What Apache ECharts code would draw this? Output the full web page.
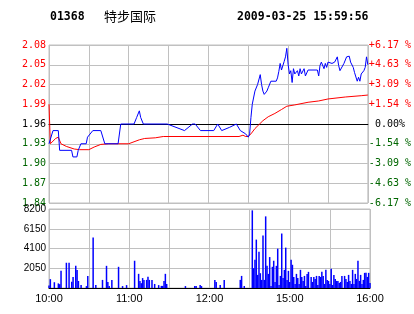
<!DOCTYPE html>
<html><head><meta charset="utf-8">
<script src="https://cdn.jsdelivr.net/npm/echarts@6/dist/echarts.min.js"></script>
<style>html,body{margin:0;padding:0;background:#fff}#c{width:414px;height:314px}</style>
</head><body><div id="c"></div><script>
const stockCode = '01368';
const stockName = '特步国际';
const stamp = '2009-03-25 15:59:56';
const PRE_CLOSE = 1.96;
const priceTickLabels = ['1.84','1.87','1.90','1.93','1.96','1.99','2.02','2.05','2.08'];
const pctTickLabels = ['-6.17 %','-4.63 %','-3.09 %','-1.54 %',' 0.00%','+1.54 %','+3.09 %','+4.63 %','+6.17 %'];
const volTickLabels = ['','2050','4100','6150','8200'];
const timeTickMinutes = [0,60,120,180,240];
const timeTickLabels = ['10:00','11:00','12:00','15:00','16:00'];

// [minute index, price]
const priceLine = [[0,1.93],[3,1.95],[7,1.95],[8,1.92],[17,1.92],[18,1.91],[21,1.91],[22,1.92],[24,1.93],[28,1.93],[29,1.94],[33,1.95],[39,1.95],[42,1.93],[52,1.93],[54,1.96],[64,1.96],[66,1.97],[68,1.98],[69,1.97],[71,1.96],[89,1.96],[102,1.95],[108,1.96],[110,1.96],[114,1.95],[124,1.95],[127,1.96],[130,1.95],[136,1.955],[141,1.96],[142,1.96],[144,1.95],[148,1.945],[150,1.94],[151,1.945],[152,1.97],[153,1.99],[155,2.01],[156,2.008],[157,2.02],[159,2.035],[160,2.02],[161,2.01],[162,2.005],[163,2.008],[164,2.01],[165,2.015],[167,2.025],[171,2.025],[172,2.03],[173,2.04],[174,2.052],[175,2.042],[177,2.055],[178,2.062],[179,2.075],[180,2.05],[181,2.036],[182,2.041],[183,2.023],[184,2.044],[185,2.036],[187,2.041],[188,2.033],[189,2.044],[190,2.036],[192,2.044],[193,2.033],[194,2.033],[195,2.042],[202,2.042],[203,2.033],[204,2.049],[205,2.054],[207,2.044],[208,2.052],[209,2.046],[210,2.054],[213,2.052],[215,2.054],[217,2.062],[218,2.049],[219,2.041],[222,2.052],[223,2.054],[224,2.062],[226,2.063],[227,2.054],[229,2.046],[230,2.038],[232,2.025],[233,2.031],[234,2.025],[235,2.036],[237,2.041],[238,2.046],[239,2.062],[240,2.05]];

const avgLine = [[0,1.99],[1,1.93],[3,1.934],[5,1.938],[7,1.94],[8,1.94],[9,1.93],[13,1.926],[19,1.922],[23,1.921],[30,1.921],[34,1.925],[39,1.929],[45,1.93],[60,1.93],[64,1.933],[68,1.936],[72,1.938],[80,1.939],[86,1.941],[143,1.941],[146,1.943],[148,1.941],[150,1.941],[152,1.945],[155,1.953],[158,1.959],[161,1.965],[165,1.971],[170,1.976],[175,1.982],[179,1.987],[185,1.989],[195,1.993],[203,1.995],[210,1.998],[223,2.001],[235,2.003],[240,2.004]];

const volumeBars = [[0,250],[1,920],[4,600],[7,480],[8,400],[9,1780],[13,2620],[15,2620],[17,650],[18,1150],[20,2300],[21,1880],[22,730],[24,300],[28,200],[29,1250],[33,5250],[35,300],[40,840],[43,2300],[44,630],[45,200],[47,840],[52,2200],[55,200],[58,300],[64,2830],[67,1470],[68,730],[69,500],[70,1030],[71,840],[73,840],[74,1170],[75,840],[77,840],[79,420],[82,300],[84,220],[85,220],[86,730],[87,1470],[88,420],[102,200],[109,200],[110,200],[113,300],[114,200],
[124,840],[125,630],[128,315],[131,840],[143,840],[144,1255],[146,210],
[152,8060],[153,2060],[154,2930],[155,5025],[156,1360],[157,3770],[158,1535],[159,840],[160,5445],[161,840],[162,7435],[163,2300],[164,1465],[165,3210],[166,210],[167,2200],[168,2830],[169,630],[170,2300],[171,4085],[172,315],[173,1255],[174,5655],[175,1050],[176,1885],[177,4190],[178,840],[179,1780],[180,630],[181,2930],[182,2410],[183,1150],[184,420],[185,1465],[186,1050],[187,420],[188,1885],[189,1150],[190,735],[191,1255],[192,210],[193,1465],[194,1675],[196,1150],[197,630],[198,1150],[199,940],[200,1255],[201,315],[202,1255],[203,1150],[204,1675],[205,1255],[206,420],[207,1885],[208,840],[209,735],[210,420],[211,1990],[212,315],[213,1360],[214,940],[215,735],[216,735],[217,525],[218,630],[219,1255],[221,1255],[222,940],[223,630],[224,1360],[225,735],[226,420],[227,1885],[228,420],[229,1465],[230,940],[231,2830],[232,735],[233,1360],[234,420],[235,840],[236,1570],[237,1570],[238,1150],[239,1570],[240,525]];

const toCents = p => Math.round((p - PRE_CLOSE) * 10000) / 100;
const tickIdx = v => Math.round((Number(v) + 12) / 3);
const signColor = v => { v = Number(v); return v > 0.001 ? '#ff0000' : (v < -0.001 ? '#006600' : '#000000'); };
const GRAY = '#c0c0c0';
const monoFont = 'DejaVu Sans Mono';

const chart = echarts.init(document.getElementById('c'), null, {renderer: 'canvas'});
chart.setOption({
  animation: false,
  backgroundColor: '#ffffff',
  title: [
    {text: stockCode, left: 50, top: 11, padding: 0, textStyle: {fontFamily: monoFont, fontWeight: 'bold', fontSize: 11.5, color: '#000'}},
    {text: stockName, left: 104, top: 10, padding: 0, textStyle: {fontFamily: 'Noto Sans CJK SC', fontWeight: 'normal', fontSize: 13, color: '#000'}},
    {text: stamp, left: 237, top: 11, padding: 0, textStyle: {fontFamily: monoFont, fontWeight: 'bold', fontSize: 11.5, color: '#000'}}
  ],
  grid: [
    {left: 49, top: 45, width: 321, height: 158, show: true, borderColor: GRAY, borderWidth: 1, containLabel: false},
    {left: 49, top: 209, width: 321, height: 79, show: true, borderColor: GRAY, borderWidth: 1, containLabel: false}
  ],
  xAxis: [
    {type: 'value', gridIndex: 0, min: 0, max: 240, interval: 30,
     axisLine: {show: true, lineStyle: {color: '#000', width: 1}}, axisTick: {show: false}, axisLabel: {show: false},
     splitLine: {show: true, lineStyle: {color: GRAY, width: 1}}},
    {type: 'value', gridIndex: 1, min: 0, max: 240, interval: 30,
     axisLine: {show: true, lineStyle: {color: '#000', width: 1}}, axisTick: {show: false},
     axisLabel: {show: true, margin: 5, fontFamily: 'Liberation Sans', fontSize: 11, color: '#000',
       formatter: v => { const i = timeTickMinutes.indexOf(Number(v)); return i >= 0 ? timeTickLabels[i] : ''; }},
     splitLine: {show: true, lineStyle: {color: GRAY, width: 1}}}
  ],
  yAxis: [
    {type: 'value', gridIndex: 0, position: 'left', min: -12, max: 12, interval: 3,
     axisLine: {show: false}, axisTick: {show: false},
     axisLabel: {margin: 3, fontFamily: monoFont, fontSize: 10, color: signColor,
       formatter: v => priceTickLabels[tickIdx(v)]},
     splitLine: {show: true, lineStyle: {color: [GRAY, GRAY, GRAY, GRAY, '#000000', GRAY, GRAY, GRAY, GRAY], width: 1}}},
    {type: 'value', gridIndex: 0, position: 'right', min: -12, max: 12, interval: 3,
     axisLine: {show: false}, axisTick: {show: false},
     axisLabel: {margin: 1, align: 'left', fontFamily: monoFont, fontSize: 10, color: signColor,
       formatter: v => pctTickLabels[tickIdx(v)]},
     splitLine: {show: false}},
    {type: 'value', gridIndex: 1, position: 'left', min: 0, max: 8200, interval: 2050,
     axisLine: {show: false}, axisTick: {show: false},
     axisLabel: {margin: 3, padding: [5, 0, 0, 0], fontFamily: 'Liberation Sans', fontSize: 10, color: '#000',
       formatter: v => volTickLabels[Math.round(Number(v) / 2050)]},
     splitLine: {show: true, lineStyle: {color: GRAY, width: 1}}}
  ],
  series: [
    {type: 'line', name: 'avg', xAxisIndex: 0, yAxisIndex: 0, z: 9, showSymbol: false, symbol: 'none',
     data: avgLine.map(d => [d[0], toCents(d[1])]),
     lineStyle: {color: '#ff0000', width: 1}, itemStyle: {color: '#ff0000'}},
    {type: 'line', name: 'price', xAxisIndex: 0, yAxisIndex: 0, z: 10, showSymbol: false, symbol: 'none',
     data: priceLine.map(d => [d[0], toCents(d[1])]),
     lineStyle: {color: '#0000ff', width: 1}, itemStyle: {color: '#0000ff'}},
    {type: 'bar', name: 'volume', xAxisIndex: 1, yAxisIndex: 2, barWidth: 1.5,
     data: volumeBars, itemStyle: {color: '#0000ff'}}
  ]
});
</script></body></html>
